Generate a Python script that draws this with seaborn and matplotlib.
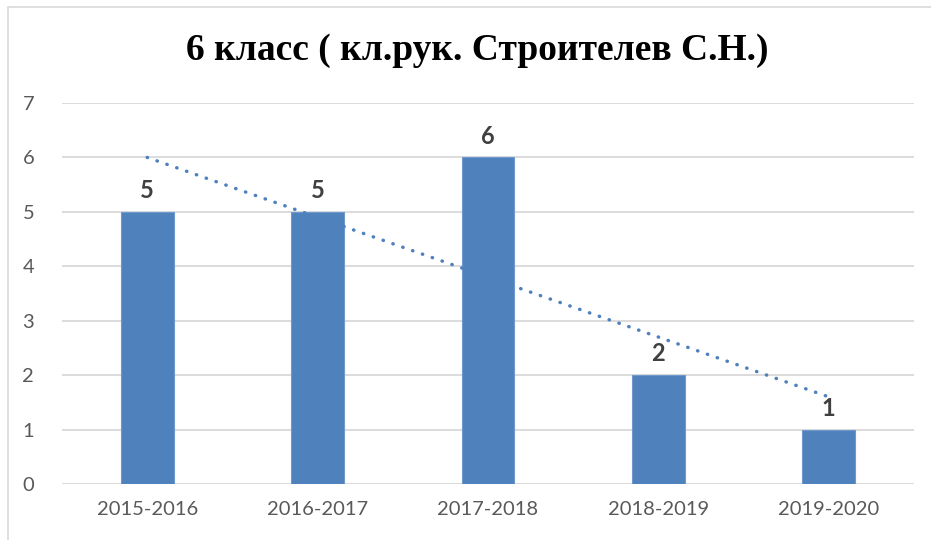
import numpy as np
import pandas as pd
import matplotlib
matplotlib.use("Agg")
import matplotlib.pyplot as plt
import seaborn as sns
from matplotlib.patches import Rectangle

years = ["2015-2016", "2016-2017", "2017-2018", "2018-2019", "2019-2020"]
counts = [5, 5, 6, 2, 1]
title = "6 класс ( кл.рук. Строителев С.Н.)"

sns.set_theme(style="white")
plt.rcParams['font.family'] = ['Lato', 'DejaVu Sans']

df = pd.DataFrame({"year": years, "count": counts})

fig = plt.figure(figsize=(9.31, 5.4), dpi=100)
ax = fig.add_axes([62/931, 1-484/540, (914-62)/931, (484-103)/540])

sns.barplot(data=df, x="year", y="count", ax=ax, color="#4F81BD", saturation=1,
            width=0.31, edgecolor="#6F98CC", linewidth=0.8, zorder=3)

# linear trendline
xs = np.arange(len(counts))
k, b = np.polyfit(xs, counts, 1)
ax.plot(xs, k*xs + b, color="#4F81BD", linewidth=2.5, linestyle=(0, (0.1, 2.9)),
        dash_capstyle="round", zorder=4)

for c in ax.containers:
    ax.bar_label(c, labels=[str(v) for v in counts], padding=7, fontsize=17,
                 fontweight="bold", color="#404040")

ax.set_ylim(0, 7)
ax.set_xlim(-0.5, len(years) - 0.5)
ax.set_yticks(range(0, 8))
ax.grid(axis="y", color="#D9D9D9", linewidth=1.3, zorder=0)
ax.set_axisbelow(True)
for s in ax.spines.values():
    s.set_visible(False)
ax.tick_params(axis="both", length=0, labelsize=14.5, colors="#595959")
ax.tick_params(axis="x", pad=12)
ax.tick_params(axis="y", pad=20)
ax.set_xlabel("")
ax.set_ylabel("")

t = fig.text(0.513, 1-50/540, title, ha="center", va="center", fontsize=27,
             fontweight="bold", family=["Liberation Serif", "DejaVu Serif"], color="black")
t.set_fontstretch("condensed")

fig.patches.append(Rectangle((8/931, -0.1), 1.2, 1-7/540+0.1, transform=fig.transFigure,
                             fill=False, edgecolor="#D9D9D9", linewidth=1.2))

fig.savefig("out.png", dpi=100)
